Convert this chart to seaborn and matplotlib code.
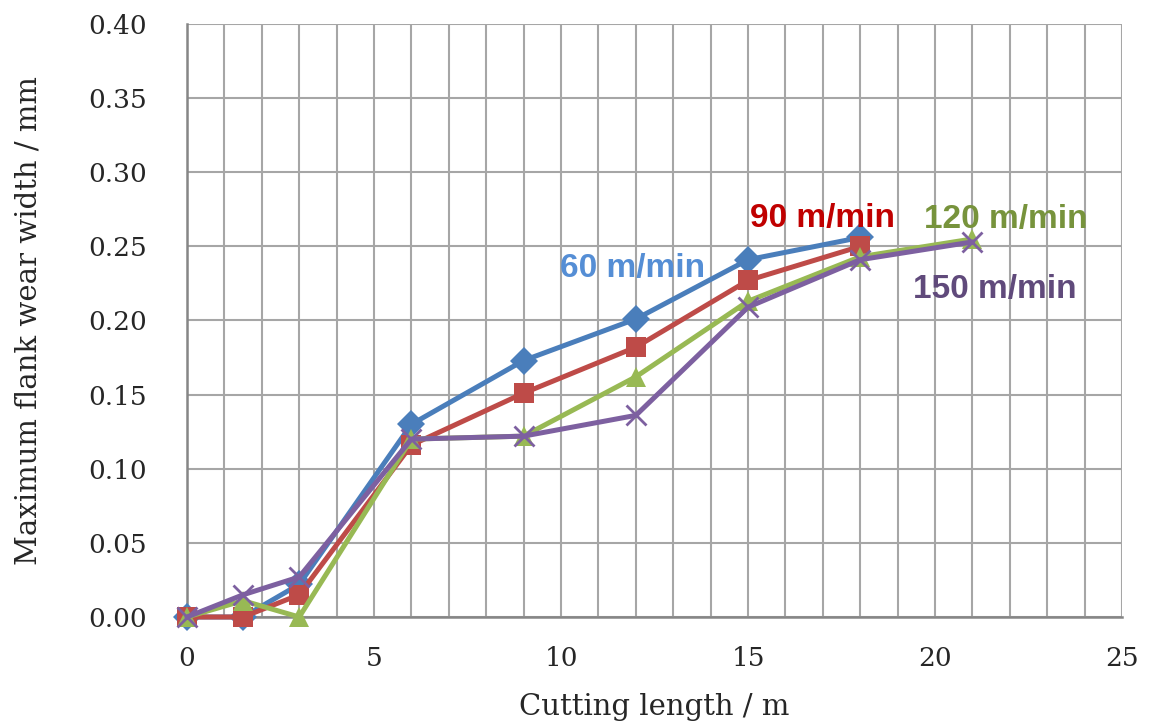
import matplotlib
matplotlib.use("Agg")
import matplotlib.pyplot as plt
from matplotlib.ticker import MultipleLocator, FormatStrFormatter
import seaborn as sns
import pandas as pd

# cutting length (m) and max flank wear width (mm) per cutting speed
len_60 = [0, 1.5, 3, 6, 9, 12, 15, 18]
vb_60 = [0.0, 0.0, 0.022, 0.130, 0.173, 0.201, 0.241, 0.256]
len_90 = [0, 1.5, 3, 6, 9, 12, 15, 18]
vb_90 = [0.0, 0.0, 0.015, 0.116, 0.151, 0.182, 0.227, 0.250]
len_120 = [0, 1.5, 3, 6, 9, 12, 15, 18, 21]
vb_120 = [0.0, 0.011, 0.0, 0.120, 0.122, 0.162, 0.213, 0.243, 0.255]
len_150 = [0, 1.5, 3, 6, 9, 12, 15, 18, 21]
vb_150 = [0.0, 0.015, 0.027, 0.120, 0.122, 0.136, 0.209, 0.241, 0.253]

speeds = ["60 m/min", "90 m/min", "120 m/min", "150 m/min"]
line_colors = ["#4A7EBB", "#BE4B48", "#98B954", "#7D60A0"]
text_colors = ["#558ED5", "#C00000", "#77933C", "#604A7B"]
marker_map = ["D", "s", "^", "x"]
# label anchor positions in data units
label_x = [11.9, 17.0, 21.9, 21.6]
label_y = [0.235, 0.269, 0.268, 0.221]

rows = []
for name, xs, ys in zip(speeds, [len_60, len_90, len_120, len_150],
                        [vb_60, vb_90, vb_120, vb_150]):
    for x, y in zip(xs, ys):
        rows.append({"length": x, "wear": y, "speed": name})
df = pd.DataFrame(rows)

sns.set_style("white")
plt.rcParams["font.family"] = ["DejaVu Serif"]

fig = plt.figure(figsize=(11.5, 7.27), dpi=100)
ax = fig.add_axes([0.1626, 0.1513, 0.8131, 0.8157])

for name, c, m in zip(speeds, line_colors, marker_map):
    sub = df[df["speed"] == name]
    if m == "x":
        mk = dict(marker=m, markersize=15, markeredgewidth=2)
    elif m == "^":
        mk = dict(marker=m, markersize=15, markeredgewidth=0)
    else:
        mk = dict(marker=m, markersize=14, markeredgewidth=0)
    sns.lineplot(data=sub, x="length", y="wear", color=c, linewidth=3.6,
                 markeredgecolor=c, markerfacecolor=c, clip_on=False,
                 zorder=3, ax=ax, **mk)

for name, tx, ty, tc in zip(speeds, label_x, label_y, text_colors):
    ax.text(tx, ty, name, color=tc, fontsize=24, fontweight="bold",
            family="Liberation Sans", ha="center", va="center", zorder=4)

ax.set_xlim(0, 25)
ax.set_ylim(0, 0.40)
ax.xaxis.set_major_locator(MultipleLocator(5))
ax.xaxis.set_minor_locator(MultipleLocator(1))
ax.yaxis.set_major_locator(MultipleLocator(0.05))
ax.yaxis.set_major_formatter(FormatStrFormatter("%.2f"))
ax.grid(which="both", color="#A6A6A6", linewidth=1.5, zorder=0)
ax.set_axisbelow(True)
for s in ["top", "right"]:
    ax.spines[s].set_visible(False)
for s in ["left", "bottom"]:
    ax.spines[s].set_color("#868686")
    ax.spines[s].set_linewidth(1.8)
ax.tick_params(which="major", direction="out", length=9, width=1.5,
               color="#868686", labelsize=19)
ax.tick_params(axis="x", pad=12)
ax.tick_params(axis="y", pad=20)
ax.tick_params(which="minor", length=0)
ax.set_xlabel("Cutting length / m", fontsize=21)
ax.set_ylabel("Maximum flank wear width / mm", fontsize=21)
ax.xaxis.set_label_coords(0.5, -0.128)
ax.yaxis.set_label_coords(-0.155, 0.5)

plt.savefig("out.png", dpi=100)
